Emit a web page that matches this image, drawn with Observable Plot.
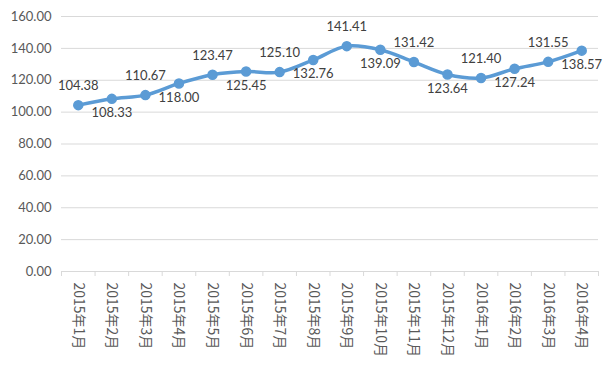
<!DOCTYPE html>
<html>
<head>
<meta charset="utf-8">
<script src="https://cdn.jsdelivr.net/npm/d3@7"></script>
<script src="https://cdn.jsdelivr.net/npm/@observablehq/plot@0.6"></script>
<style>
  html, body { margin: 0; padding: 0; background: #fff; }
  #chart { width: 615px; height: 365px; }
</style>
</head>
<body>
<div id="chart"></div>
<script>
const months = ["2015年1月","2015年2月","2015年3月","2015年4月","2015年5月","2015年6月","2015年7月","2015年8月","2015年9月","2015年10月","2015年11月","2015年12月","2016年1月","2016年2月","2016年3月","2016年4月"];
const values = [104.38,108.33,110.67,118.00,123.47,125.45,125.10,132.76,141.41,139.09,131.42,123.64,121.40,127.24,131.55,138.57];
const yTicks = [0,20,40,60,80,100,120,140,160];

const data = months.map((m, i) => ({i: i + 1, month: m, value: values[i]}));
const bounds = [0].concat(months.map((m, i) => i + 1)).map(k => k + 0.5);

const chart = Plot.plot({
  width: 615,
  height: 365,
  marginTop: 16,
  marginBottom: 94,
  marginLeft: 61,
  marginRight: 17,
  style: {fontFamily: "Lato, 'Noto Sans', sans-serif", background: "#fff"},
  x: {type: "linear", domain: [0.5, months.length + 0.5]},
  y: {domain: [0, 160]},
  marks: [
    Plot.gridY(yTicks, {stroke: "#D9D9D9", strokeOpacity: 1}),
    Plot.axisY(yTicks, {tickSize: 0, tickPadding: 10, tickFormat: d => d.toFixed(2), fill: "#595959", fontSize: 13, label: null}),
    Plot.axisX(bounds, {tickSize: 5, tickFormat: () => "", stroke: "#D9D9D9", strokeOpacity: 1, label: null}),
    Plot.text(data, {x: "i", frameAnchor: "bottom", text: "month", rotate: 90, textAnchor: "start", lineAnchor: "middle", dy: 11, fill: "#595959", fontSize: 14, fontFamily: "'Noto Sans CJK SC', sans-serif"}),
    Plot.line(data, {x: "i", y: "value", stroke: "#5B9BD5", strokeWidth: 3.5, curve: "catmull-rom"}),
    Plot.dot(data, {x: "i", y: "value", r: 4.5, fill: "#5B9BD5", stroke: "#5B9BD5"}),
    Plot.text(data.filter((d, k) => k % 2 === 0), {x: "i", y: "value", text: d => d.value.toFixed(2), dy: -19, fill: "#404040", fontSize: 13}),
    Plot.text(data.filter((d, k) => k % 2 === 1), {x: "i", y: "value", text: d => d.value.toFixed(2), dy: 14, fill: "#404040", fontSize: 13})
  ]
});
document.getElementById("chart").appendChild(chart);
</script>
</body>
</html>
